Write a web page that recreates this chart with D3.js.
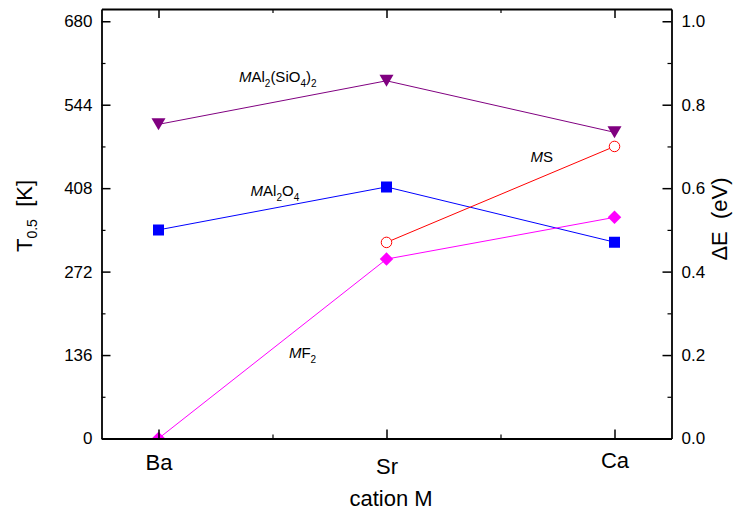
<!DOCTYPE html>
<html>
<head>
<meta charset="utf-8">
<script src="https://cdn.jsdelivr.net/npm/d3@7"></script>
<style>
  body { margin: 0; background: #fff; }
  text { font-family: "Liberation Sans", Arial, sans-serif; }
</style>
</head>
<body>
<script>
// categories and values
var categories = ["Ba", "Sr", "Ca"];
var leftTicks = [0, 136, 272, 408, 544, 680];     // T0.5 [K]
var leftMinor = [68, 204, 340, 476, 612];
var rightTicks = [0, 0.2, 0.4, 0.6, 0.8, 1.0];    // ΔE (eV)
var silicate = [512, 583, 499];      // MAl2(SiO4)2, K
var aluminate = [340, 410, 320];     // MAl2O4, K
var sulfide = [null, 0.47, 0.70];    // MS, eV
var fluoride = [0.00, 0.43, 0.53];   // MF2, eV

// note: "top" is a read-only global in browsers, so plot* names
var width = 733,
    height = 512,
    plotLeft = 101.5,
    plotRight = 671.5,
    plotTop = 9,
    plotBottom = 438.5;

var svg = d3.select("body")
    .append("svg")
    .attr("width", width)
    .attr("height", height);

var x = d3.scaleLinear().domain([-0.25, 2.25]).range([plotLeft, plotRight]);
var y = d3.scaleLinear().domain([0, 700]).range([plotBottom, plotTop]);
var yR = d3.scaleLinear().domain([0, 700 / 680]).range([plotBottom, plotTop]);

svg.append("defs").append("clipPath")
    .attr("id", "plotClip")
    .append("rect")
    .attr("x", plotLeft)
    .attr("y", plotTop)
    .attr("width", plotRight - plotLeft)
    .attr("height", plotBottom - plotTop);

// marker shapes, size = outer width
var triDown = { draw: function (c, s) { var h = s * 0.86; c.moveTo(-s / 2, -h / 2); c.lineTo(s / 2, -h / 2); c.lineTo(0, h / 2); c.closePath(); } };
var square = { draw: function (c, s) { c.rect(-s / 2, -s / 2, s, s); } };
var diamond = { draw: function (c, s) { var d = s / 2; c.moveTo(0, -d); c.lineTo(d, 0); c.lineTo(0, d); c.lineTo(-d, 0); c.closePath(); } };
var circle = { draw: function (c, s) { c.moveTo(s / 2, 0); c.arc(0, 0, s / 2, 0, 2 * Math.PI); } };

var series = [
    { values: silicate, scale: y, color: "#800080", shape: triDown, size: 14, open: false },
    { values: aluminate, scale: y, color: "#0000ff", shape: square, size: 11, open: false },
    { values: sulfide, scale: yR, color: "#ff0000", shape: circle, size: 10.5, open: true },
    { values: fluoride, scale: yR, color: "#ff00ff", shape: diamond, size: 13.5, open: false }
];

var plot = svg.append("g").attr("clip-path", "url(#plotClip)");

series.forEach(function (s) {
    var line = d3.line()
        .defined(function (d) { return d != null; })
        .x(function (d, i) { return x(i); })
        .y(function (d) { return s.scale(d); });

    plot.append("path")
        .datum(s.values)
        .attr("d", line)
        .style("fill", "none")
        .style("stroke", s.color)
        .style("stroke-width", "1px");

    var pts = s.values.map(function (d, i) { return { v: d, i: i }; })
        .filter(function (d) { return d.v != null; });

    plot.selectAll(null)
        .data(pts)
        .enter()
        .append("path")
        .attr("transform", function (d) { return "translate(" + x(d.i) + "," + s.scale(d.v) + ")"; })
        .attr("d", d3.symbol().type(s.shape).size(s.size))
        .style("fill", s.open ? "#ffffff" : s.color)
        .style("stroke", s.color)
        .style("stroke-width", s.open ? "1px" : "0");
});

// axes, all ticks pointing inward
function styleAxis(g, fontSize) {
    g.selectAll("path").style("stroke", "#000").style("stroke-width", "1.8px");
    g.selectAll(".tick line").style("stroke", "#000").style("stroke-width", "1.5px");
    g.selectAll(".tick text")
        .style("font-family", "'Liberation Sans', Arial, sans-serif")
        .style("font-size", fontSize + "px")
        .style("fill", "#000");
}

function minorAxis(axis, tx, ty) {
    var g = svg.append("g")
        .attr("transform", "translate(" + tx + "," + ty + ")")
        .call(axis.tickSizeInner(-4).tickSizeOuter(0).tickFormat(""));
    g.select(".domain").remove();
    g.selectAll(".tick line").style("stroke", "#000").style("stroke-width", "1.2px");
}

minorAxis(d3.axisLeft(y).tickValues(leftMinor), plotLeft, 0);
minorAxis(d3.axisRight(y).tickValues(leftMinor), plotRight, 0);
minorAxis(d3.axisBottom(x).tickValues([0.5, 1.5]), 0, plotBottom);
minorAxis(d3.axisTop(x).tickValues([0.5, 1.5]), 0, plotTop);

var gLeft = svg.append("g")
    .attr("transform", "translate(" + plotLeft + ",0)")
    .call(d3.axisLeft(y).tickValues(leftTicks).tickSizeInner(-9).tickSizeOuter(0).tickPadding(9));
styleAxis(gLeft, 17);

var gRight = svg.append("g")
    .attr("transform", "translate(" + plotRight + ",0)")
    .call(d3.axisRight(yR).tickValues(rightTicks).tickFormat(d3.format(".1f"))
        .tickSizeInner(-9).tickSizeOuter(0).tickPadding(10));
styleAxis(gRight, 17);

var gTop = svg.append("g")
    .attr("transform", "translate(0," + plotTop + ")")
    .call(d3.axisTop(x).tickValues([0, 1, 2]).tickFormat("").tickSizeInner(-9).tickSizeOuter(0));
styleAxis(gTop, 17);

var nudge = [0, 4, -2.5];  // the category labels sit slightly uneven in the original
var gBottom = svg.append("g")
    .attr("transform", "translate(0," + plotBottom + ")")
    .call(d3.axisBottom(x).tickValues([0, 1, 2])
        .tickFormat(function (i) { return categories[i]; })
        .tickSizeInner(-9).tickSizeOuter(0).tickPadding(16));
styleAxis(gBottom, 22);
gBottom.selectAll(".tick text")
    .attr("y", function (d) { return 16 + nudge[d]; });

// axis titles
svg.append("text")
    .attr("x", 391)
    .attr("y", 506)
    .attr("text-anchor", "middle")
    .style("font-size", "22px")
    .text("cation M");

var yTitle = svg.append("text")
    .attr("transform", "translate(32,216) rotate(-90)")
    .attr("text-anchor", "middle")
    .style("font-size", "22px");
yTitle.append("tspan").text("T");
yTitle.append("tspan").attr("dy", 5).style("font-size", "14px").text("0.5");
yTitle.append("tspan").attr("dy", -5).text("\u00a0 [K]");

svg.append("text")
    .attr("transform", "translate(727,219) rotate(-90)")
    .attr("text-anchor", "middle")
    .style("font-size", "22px")
    .text("\u0394E\u00a0 (eV)");

// series labels, anchored in data units (category index, K)
var annotations = [
    { at: [0.353, 581], parts: [["M", "i"], ["Al"], ["2", "s"], ["(SiO"], ["4", "s"], [")"], ["2", "s"]] },
    { at: [0.404, 395], parts: [["M", "i"], ["Al"], ["2", "s"], ["O"], ["4", "s"]] },
    { at: [1.632, 451], parts: [["M", "i"], ["S"]] },
    { at: [0.572, 131], parts: [["M", "i"], ["F"], ["2", "s"]] }
];

annotations.forEach(function (a) {
    var t = svg.append("text")
        .attr("x", x(a.at[0]))
        .attr("y", y(a.at[1]))
        .style("font-size", "15px")
        .style("fill", "#000");
    var shifted = 0;
    a.parts.forEach(function (p) {
        var sub = p[1] === "s";
        var dy = (sub ? 5 : 0) - shifted;
        shifted = sub ? 5 : 0;
        var ts = t.append("tspan").text(p[0]);
        if (dy) ts.attr("dy", dy);
        if (sub) ts.style("font-size", "10px");
        if (p[1] === "i") ts.style("font-style", "italic");
    });
});
</script>
</body>
</html>
